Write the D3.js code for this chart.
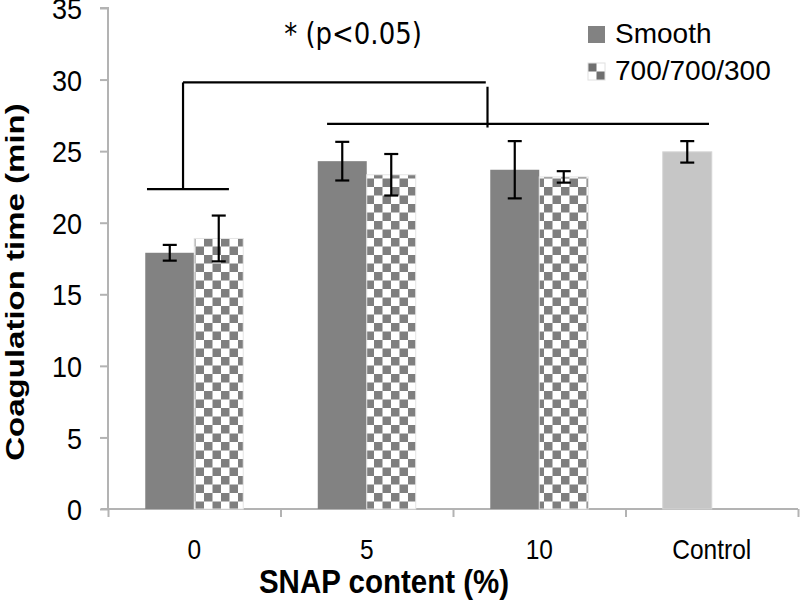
<!DOCTYPE html>
<html><head><meta charset="utf-8">
<script src="https://cdn.jsdelivr.net/npm/d3@7"></script>
<style>body{margin:0;background:#fff}svg{display:block}</style>
</head><body>
<svg id="c" width="800" height="608"></svg>
<script>
const categories = ["0", "5", "10", "Control"];
const seriesNames = ["Smooth", "700/700/300"];
const smoothValues = [17.9, 24.3, 23.7];
const smoothErrors = [0.55, 1.35, 2.0];
const texturedValues = [18.9, 23.35, 23.2];
const texturedErrors = [1.6, 1.45, 0.4];
const controlValue = [24.95];
const controlError = [0.75];
const yTicks = [0, 5, 10, 15, 20, 25, 30, 35];
const sigLabel = "* (p<0.05)";

const svg = d3.select("#c");
const x = d3.scaleBand().domain(categories).range([108, 798]).padding(0);
const xu = d3.scaleLinear().domain([0, 4]).range([108, 798]);
const y = d3.scaleLinear().domain([0, 35]).range([509, 8]);
const bw = x.bandwidth() * 0.284;
const FONT = "Liberation Sans, Arial, sans-serif";

const defs = svg.append("defs");
const pat = defs.append("pattern").attr("id", "chk").attr("patternUnits", "userSpaceOnUse")
  .attr("width", 17).attr("height", 17).attr("x", 0).attr("y", 0);
pat.append("rect").attr("width", 17).attr("height", 17).attr("fill", "#fff");
pat.append("rect").attr("x", 0).attr("y", 0).attr("width", 8.5).attr("height", 8.5).attr("fill", "#7f7f7f");
pat.append("rect").attr("x", 8.5).attr("y", 8.5).attr("width", 8.5).attr("height", 8.5).attr("fill", "#7f7f7f");

const pat2 = defs.append("pattern").attr("id", "chk2").attr("patternUnits", "userSpaceOnUse")
  .attr("width", 17).attr("height", 17).attr("x", 588).attr("y", 63);
pat2.append("rect").attr("width", 17).attr("height", 17).attr("fill", "#fff");
pat2.append("rect").attr("x", 0).attr("y", 0).attr("width", 8.5).attr("height", 8.5).attr("fill", "#6f6f6f");
pat2.append("rect").attr("x", 8.5).attr("y", 8.5).attr("width", 8.5).attr("height", 8.5).attr("fill", "#6f6f6f");

// axes
const axisColor = "#b3b3b3";
const yAxis = svg.append("g").attr("transform", "translate(108,0)")
  .call(d3.axisLeft(y).tickValues(yTicks).tickSize(8).tickPadding(18));
yAxis.select(".domain").attr("stroke", axisColor).attr("stroke-width", 2).attr("d", `M-8,${y(35)}H0V${y(0)}`);
yAxis.selectAll(".tick line").attr("stroke", axisColor).attr("stroke-width", 2);
yAxis.selectAll(".tick text").attr("font-family", FONT)
  .attr("font-size", 27).attr("fill", "#000").attr("dy", "0.36em").attr("transform", "scale(1,1.1)");

const xAxis = svg.append("g").attr("transform", `translate(0,${y(0)})`)
  .call(d3.axisBottom(xu).tickValues([0, 1, 2, 3, 4]).tickSize(8).tickFormat(""));
xAxis.select(".domain").attr("stroke", axisColor).attr("stroke-width", 2).attr("d", `M101,0H${xu(4)}`);
xAxis.selectAll(".tick line").attr("stroke", axisColor).attr("stroke-width", 2);

svg.append("g").selectAll("text").data(categories).join("text")
  .attr("transform", d => `translate(${x(d) + x.bandwidth() / 2},559) scale(1,1.15)`)
  .attr("text-anchor", "middle").attr("font-family", FONT)
  .attr("font-size", 24.5).text(d => d);

// bars
const groups = categories.slice(0, 3);
const barSmooth = groups.map((c, i) => ({ c, v: smoothValues[i], e: smoothErrors[i] }));
const barTex = groups.map((c, i) => ({ c, v: texturedValues[i], e: texturedErrors[i] }));
const barCtrl = [{ c: "Control", v: controlValue[0], e: controlError[0] }];
const cx = c => x(c) + x.bandwidth() / 2;

svg.append("g").selectAll("rect").data(barSmooth).join("rect")
  .attr("x", d => cx(d.c) - bw).attr("width", bw)
  .attr("y", d => y(d.v)).attr("height", d => y(0) - y(d.v)).attr("fill", "#828282");
svg.append("g").selectAll("rect").data(barTex).join("rect")
  .attr("x", d => cx(d.c)).attr("width", bw)
  .attr("y", d => y(d.v)).attr("height", d => y(0) - y(d.v)).attr("fill", "url(#chk)")
  .attr("stroke", "#e4e4e4").attr("stroke-width", 1);
svg.append("g").selectAll("rect").data(barCtrl).join("rect")
  .attr("x", d => cx(d.c) - bw).attr("width", bw)
  .attr("y", d => y(d.v)).attr("height", d => y(0) - y(d.v)).attr("fill", "#c6c6c6")
  .attr("stroke", "#d4d4d4").attr("stroke-width", 1);

// error bars
const errs = [
  ...barSmooth.map(d => ({ ...d, px: cx(d.c) - bw / 2 })),
  ...barTex.map(d => ({ ...d, px: cx(d.c) + bw / 2 })),
  ...barCtrl.map(d => ({ ...d, px: cx(d.c) - bw / 2 }))
];
const eg = svg.append("g").attr("stroke", "#000").attr("stroke-width", 2.2);
errs.forEach(d => {
  eg.append("line").attr("x1", d.px).attr("x2", d.px).attr("y1", y(d.v + d.e)).attr("y2", y(d.v - d.e));
  eg.append("line").attr("x1", d.px - 7).attr("x2", d.px + 7).attr("y1", y(d.v + d.e)).attr("y2", y(d.v + d.e));
  eg.append("line").attr("x1", d.px - 7).attr("x2", d.px + 7).attr("y1", y(d.v - d.e)).attr("y2", y(d.v - d.e));
});

// significance bracket
const bg = svg.append("g").attr("stroke", "#000").attr("stroke-width", 2.2).attr("fill", "none");
bg.append("line").attr("x1", xu(0.226)).attr("x2", xu(0.701)).attr("y1", y(22.35)).attr("y2", y(22.35));
bg.append("line").attr("x1", xu(0.435)).attr("x2", xu(0.435)).attr("y1", y(22.35)).attr("y2", y(29.8));
bg.append("line").attr("x1", xu(0.435)).attr("x2", xu(2.19)).attr("y1", y(29.8)).attr("y2", y(29.8));
bg.append("line").attr("x1", xu(2.2)).attr("x2", xu(2.2)).attr("y1", y(29.5)).attr("y2", y(26.65));
bg.append("line").attr("x1", xu(1.27)).attr("x2", xu(3.484)).attr("y1", y(26.9)).attr("y2", y(26.9));

svg.append("text").attr("transform", "translate(353,44) scale(1,1.15)").attr("text-anchor", "middle")
  .attr("font-family", "DejaVu Sans, Verdana, sans-serif").attr("font-size", 26).text(sigLabel);

// legend
const lg = svg.append("g");
lg.append("rect").attr("x", 588).attr("y", 26).attr("width", 17).attr("height", 17).attr("fill", "#828282");
lg.append("rect").attr("x", 588).attr("y", 63).attr("width", 17).attr("height", 17).attr("fill", "url(#chk2)").attr("stroke", "#e0e0e0").attr("stroke-width", 1);
lg.selectAll("text").data(seriesNames).join("text")
  .attr("x", 615).attr("y", (d, i) => 43 + i * 37)
  .attr("font-family", FONT).attr("font-size", 28).text(d => d);

// titles
svg.append("text").attr("transform", "translate(384,593) scale(1,1.12)").attr("text-anchor", "middle")
  .attr("font-family", FONT).attr("font-weight", "bold")
  .attr("font-size", 29.5).text("SNAP content (%)");
svg.append("text").attr("transform", "translate(24,282) scale(1,1.27) rotate(-90)").attr("text-anchor", "middle")
  .attr("font-family", FONT).attr("font-weight", "bold")
  .attr("font-size", 26).text("Coagulation time (min)");
</script>
</body></html>
